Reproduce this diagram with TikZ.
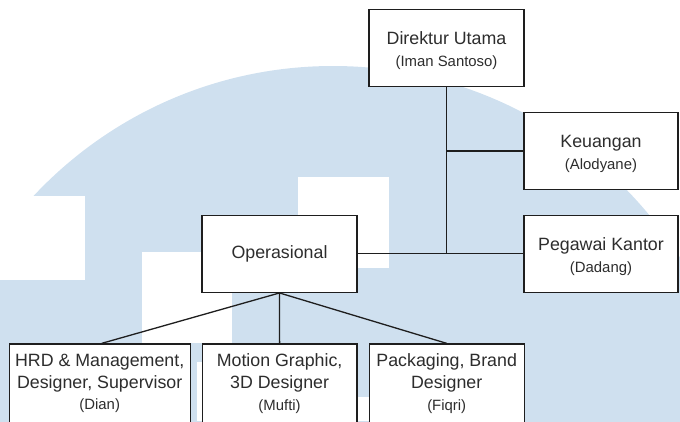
\documentclass[tikz,border=0pt]{standalone}
\usepackage{fontspec}
\setmainfont{Liberation Sans}
\definecolor{wmblue}{RGB}{207,224,239}
\definecolor{linecol}{RGB}{30,30,30}
\definecolor{txtcol}{RGB}{45,45,45}
\newcommand{\mainsize}{\fontsize{17.8bp}{21.8bp}\selectfont}
\newcommand{\subsize}{\fontsize{14.9bp}{21.8bp}\selectfont}
\newcommand{\topstrut}{\rule{0pt}{18bp}}
\tikzset{
  orgbox/.style={draw=linecol, line width=1.3bp, fill=white, inner sep=0pt,
    minimum height=77bp, align=center, font=\mainsize, text=txtcol},
  conn/.style={draw=linecol, line width=1.3bp}
}
\begin{document}
\begin{tikzpicture}[x=1bp,y=-1bp]
\useasboundingbox (0,0) rectangle (680,421);
% watermark
\begin{scope}
  \clip (0,0) rectangle (680,421);
  \fill[wmblue] (333,476) circle [radius=410bp];
  \fill[white] (0,196) rectangle (85,280);
  \fill[white] (142,252) rectangle (232,343);
  \fill[white] (298,177) rectangle (389,268);
  \fill[white] (197,362) rectangle (202,421);
  \fill[white] (357,397) rectangle (369,421);
\end{scope}
% boxes
\node[orgbox, minimum width=155bp] (dir) at (446.5,48) {\topstrut Direktur Utama\\{\subsize (Iman Santoso)}};
\node[orgbox, minimum width=154bp] (keu) at (601,151) {\topstrut Keuangan\\{\subsize (Alodyane)}};
\node[orgbox, minimum width=154bp] (peg) at (601,253.8) {\topstrut Pegawai Kantor\\{\subsize (Dadang)}};
\node[orgbox, minimum width=155bp] (ops) at (279.5,253.8) {Operasional};
\node[orgbox, minimum width=181bp, minimum height=79bp] (hrd) at (99.7,383.5) {HRD \& Management,\\Designer, Supervisor\\{\subsize (Dian)}};
\node[orgbox, minimum width=154.5bp, minimum height=79bp] (mot) at (279.6,383.5) {Motion Graphic,\\3D Designer\\{\subsize (Mufti)}};
\node[orgbox, minimum width=155bp, minimum height=79bp] (pac) at (446.7,383.5) {Packaging, Brand\\Designer\\{\subsize (Fiqri)}};
% connectors
\draw[conn] (dir.south) |- (keu.west);
\draw[conn] (dir.south) |- (peg.west);
\draw[conn] (ops.east) -- (peg.west);
\draw[conn] (ops.south) -- ([xshift=2bp]hrd.north);
\draw[conn] (ops.south) -- (mot.north);
\draw[conn] (ops.south) -- (pac.north);
\end{tikzpicture}
\end{document}
